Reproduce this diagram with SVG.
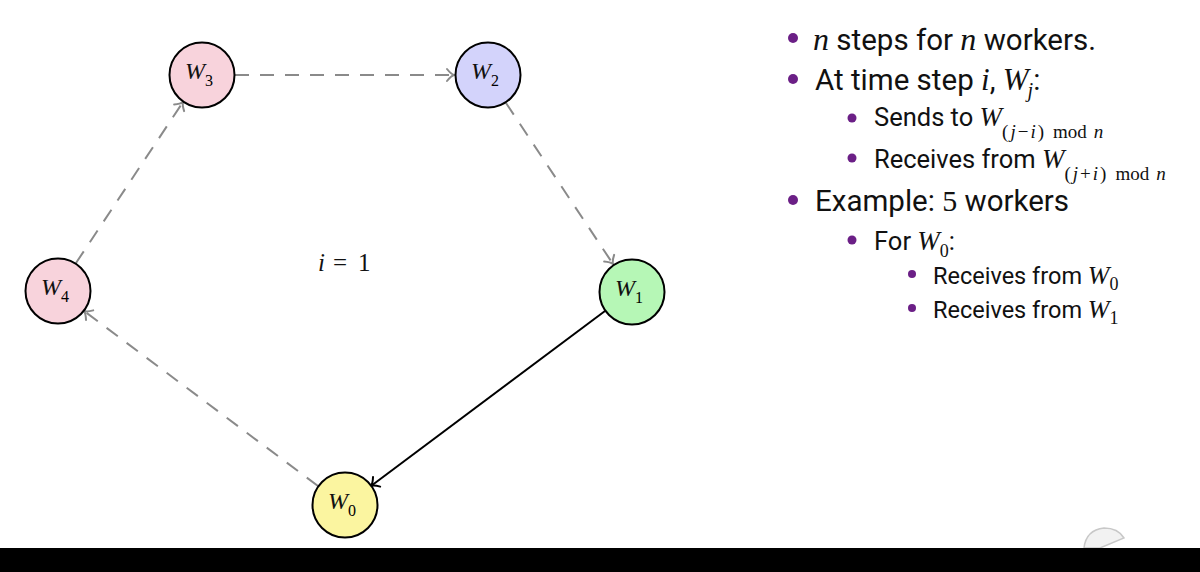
<svg xmlns="http://www.w3.org/2000/svg" width="1200" height="572" viewBox="0 0 1200 572">
  <style>
    .node { stroke: #000; stroke-width: 2; }
    .lbl { font-family: "Liberation Serif", "DejaVu Serif", serif; font-style: italic; font-size: 24px; fill: #111; }
    .sub { font-family: "Liberation Serif", "DejaVu Serif", serif; font-style: normal; font-size: 16px; }
    .dash { fill: none; stroke: #8a8a8a; stroke-width: 2; stroke-dasharray: 14 11; marker-end: url(#arrGray); }
    .solid { fill: none; stroke: #000; stroke-width: 2; marker-end: url(#arrBlack); }
    .body { font-family: Roboto, "Liberation Sans", sans-serif; fill: #111; }
    .l1 { font-size: 29.5px; }
    .l2 { font-size: 25.5px; }
    .l3 { font-size: 23.5px; }
    .m { font-family: "Liberation Serif", "DejaVu Serif", serif; font-style: italic; }
    .r { font-family: "Liberation Serif", "DejaVu Serif", serif; font-style: normal; }
    .bul { fill: #6b1f86; }
  </style>
  <defs>
    <marker id="arrGray" markerUnits="userSpaceOnUse" markerWidth="16" markerHeight="16" refX="0" refY="0" viewBox="-10 -8 12 16" orient="auto">
      <path d="M -7 -6 Q -3 -1 0 0 Q -3 1 -7 6" fill="none" stroke="#8a8a8a" stroke-width="2" stroke-linecap="round"/>
    </marker>
    <marker id="arrBlack" markerUnits="userSpaceOnUse" markerWidth="16" markerHeight="16" refX="0" refY="0" viewBox="-10 -8 12 16" orient="auto">
      <path d="M -7 -6 Q -3 -1 0 0 Q -3 1 -7 6" fill="none" stroke="#000" stroke-width="2" stroke-linecap="round"/>
    </marker>
  </defs>

  <rect width="1200" height="572" fill="#fff"/>

  <!-- connectors -->
  <g id="connectors">
    <line class="dash" x1="235" y1="75" x2="454" y2="75"/>
    <line class="dash" x1="506" y1="103" x2="613" y2="264"/>
    <line class="dash" x1="76" y1="263" x2="183" y2="102"/>
    <line class="dash" x1="318" y1="486" x2="84" y2="311"/>
    <line class="solid" x1="605" y1="311" x2="371" y2="486"/>
  </g>

  <!-- workers -->
  <g id="w3">
    <circle class="node" cx="202" cy="75" r="32.5" fill="#f8d3dc"/>
    <text class="lbl" x="185" y="79">W</text>
    <text class="sub" x="205" y="86">3</text>
  </g>
  <g id="w2">
    <circle class="node" cx="488" cy="75" r="32.5" fill="#d3d3fb"/>
    <text class="lbl" x="471" y="79">W</text>
    <text class="sub" x="491" y="86">2</text>
  </g>
  <g id="w1">
    <circle class="node" cx="632" cy="292" r="32.5" fill="#b6f7b6"/>
    <text class="lbl" x="615" y="296">W</text>
    <text class="sub" x="635" y="303">1</text>
  </g>
  <g id="w4">
    <circle class="node" cx="58" cy="291" r="32.5" fill="#f8d3dc"/>
    <text class="lbl" x="41" y="295">W</text>
    <text class="sub" x="61" y="302">4</text>
  </g>
  <g id="w0">
    <circle class="node" cx="345" cy="505" r="32.5" fill="#fbf5a0"/>
    <text class="lbl" x="328" y="509">W</text>
    <text class="sub" x="348" y="516">0</text>
  </g>

  <!-- step label -->
  <text y="271" font-family="Liberation Serif, DejaVu Serif, serif" font-size="25" fill="#111"><tspan x="318" font-style="italic">i</tspan><tspan x="333">=</tspan><tspan x="358">1</tspan></text>

  <!-- bullet list -->
  <g id="notes">
    <circle class="bul" cx="793" cy="38" r="5"/>
    <text class="body l1" x="813" y="50"><tspan class="m" font-size="32">n</tspan> steps for <tspan class="m" font-size="32">n</tspan> workers.</text>

    <circle class="bul" cx="793" cy="79" r="5"/>
    <text class="body l1" x="815" y="90">At time step <tspan class="m" font-size="31">i</tspan>, <tspan class="m" font-size="31">W</tspan><tspan class="m" font-size="20" dx="-1" dy="7">j</tspan><tspan dy="-7">:</tspan></text>

    <circle class="bul" cx="852" cy="118" r="4.5"/>
    <text class="body l2" x="874" y="126">Sends to <tspan class="m" font-size="27">W</tspan><tspan class="r" font-size="19" dx="0" dy="12" letter-spacing="2">(<tspan class="m">j</tspan>−<tspan class="m">i</tspan>)</tspan><tspan class="r" font-size="19" dx="7">mod</tspan><tspan class="m" font-size="19" dx="7">n</tspan></text>

    <circle class="bul" cx="852" cy="158" r="4.5"/>
    <text class="body l2" x="874" y="168">Receives from <tspan class="m" font-size="27">W</tspan><tspan class="r" font-size="19" dx="0" dy="12" letter-spacing="2">(<tspan class="m">j</tspan>+<tspan class="m">i</tspan>)</tspan><tspan class="r" font-size="19" dx="7">mod</tspan><tspan class="m" font-size="19" dx="7">n</tspan></text>

    <circle class="bul" cx="793" cy="200" r="5"/>
    <text class="body l1" x="815" y="211">Example: <tspan class="r" font-size="30">5</tspan> workers</text>

    <circle class="bul" cx="852" cy="240" r="4.5"/>
    <text class="body l2" x="874" y="250">For <tspan class="m" font-size="27">W</tspan><tspan class="r" font-size="18" dy="7">0</tspan><tspan dy="-7">:</tspan></text>

    <circle class="bul" cx="912" cy="274" r="4"/>
    <text class="body l3" x="933" y="284">Receives from <tspan class="m" font-size="26">W</tspan><tspan class="r" font-size="18" dy="6">0</tspan></text>

    <circle class="bul" cx="912" cy="308" r="4"/>
    <text class="body l3" x="933" y="318">Receives from <tspan class="m" font-size="26">W</tspan><tspan class="r" font-size="18" dy="6">1</tspan></text>
  </g>

  <!-- faint corner mark -->
  <path d="M 1084 548 Q 1086 530 1104 528 Q 1118 528 1124 538 L 1100 548 Z" fill="#f2f2f2" stroke="#c8c8c8" stroke-width="1.5"/>

  <!-- bottom band -->
  <rect x="0" y="548" width="1200" height="24" fill="#000"/>
</svg>
